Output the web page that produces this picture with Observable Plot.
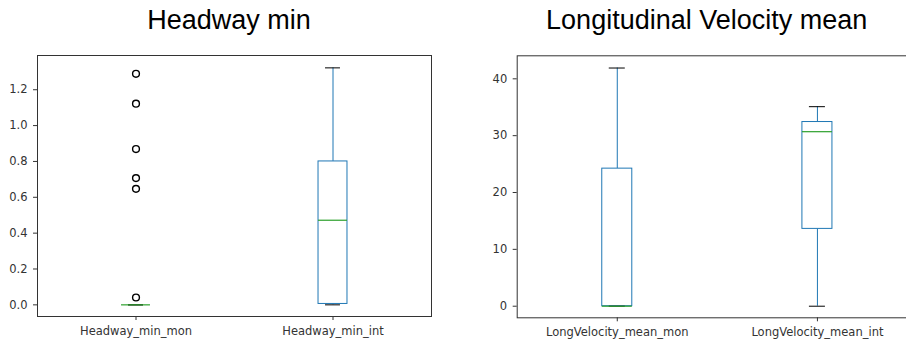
<!DOCTYPE html>
<html>
<head>
<meta charset="utf-8">
<script src="https://cdn.jsdelivr.net/npm/d3@7"></script>
<script src="https://cdn.jsdelivr.net/npm/@observablehq/plot@0.6"></script>
<style>
  html, body { margin: 0; padding: 0; background: #fff; }
  body { position: relative; width: 906px; height: 342px; overflow: hidden; }
  .title {
    position: absolute; top: 7px; height: 27px; line-height: 27px;
    font-family: "Liberation Sans", Arial, sans-serif; font-size: 27px;
    color: #000; text-align: center; white-space: nowrap;
  }
  .panel { position: absolute; top: 45px; }
</style>
</head>
<body>
<div class="title" style="left:29px;width:400px">Headway min</div>
<div class="title" style="left:506.7px;width:400px">Longitudinal Velocity mean</div>
<div class="panel" id="headway" style="left:0px;width:450px"></div>
<div class="panel" id="velocity" style="left:450px;width:467px"></div>
<script>
// Box summaries: whisker ends, quartiles, median and fliers per column
const headwayCats = ["Headway_min_mon", "Headway_min_int"];
const headwayLow = [0, 0];
const headwayQ1 = [0, 0.005];
const headwayMedian = [0, 0.472];
const headwayQ3 = [0, 0.80];
const headwayHigh = [0, 1.322];
const headwayFliers = [[0.041, 0.647, 0.707, 0.869, 1.122, 1.289], []];
const headwayTicks = [0, 0.2, 0.4, 0.6, 0.8, 1.0, 1.2];

const velocityCats = ["LongVelocity_mean_mon", "LongVelocity_mean_int"];
const velocityLow = [0, 0];
const velocityQ1 = [0, 13.6];
const velocityMedian = [0, 30.7];
const velocityQ3 = [24.2, 32.4];
const velocityHigh = [41.9, 35.1];
const velocityFliers = [[], []];
const velocityTicks = [0, 10, 20, 30, 40];

const BLUE = "#1f77b4";
const GREEN = "#2ca02c";

function boxPanel(o) {
  const rows = o.cats.map((cat, i) => ({
    cat, low: o.low[i], q1: o.q1[i], med: o.med[i], q3: o.q3[i], high: o.high[i]
  }));
  const fliers = o.cats.flatMap((cat, i) => o.fliers[i].map(v => ({cat, v})));
  return Plot.plot({
    width: o.width,
    height: 297,
    marginTop: o.marginTop,
    marginBottom: o.marginBottom,
    marginLeft: o.marginLeft,
    marginRight: o.marginRight,
    style: {fontFamily: "'DejaVu Sans', sans-serif", fontSize: "11.5px", color: "#333", background: "#fff", maxWidth: "none", overflow: "visible"},
    x: {type: "band", domain: o.cats, paddingInner: o.pad, paddingOuter: o.pad / 2, round: false},
    y: {domain: o.yDomain},
    marks: [
      Plot.ruleX(rows, {x: "cat", y1: "q3", y2: "high", stroke: BLUE, strokeWidth: 1}),
      Plot.ruleX(rows, {x: "cat", y1: "low", y2: "q1", stroke: BLUE, strokeWidth: 1}),
      Plot.barY(rows, {x: "cat", y1: "q1", y2: "q3", fill: "white", stroke: BLUE, strokeWidth: 1}),
      Plot.tickY(rows, {x: "cat", y: "low", stroke: "#000", strokeWidth: 1, insetLeft: o.capInset, insetRight: o.capInset}),
      Plot.tickY(rows, {x: "cat", y: "high", stroke: "#000", strokeWidth: 1, insetLeft: o.capInset, insetRight: o.capInset}),
      Plot.tickY(rows, {x: "cat", y: "med", stroke: GREEN, strokeWidth: 1.2}),
      Plot.dot(fliers, {x: "cat", y: "v", r: 3.4, fill: "none", stroke: "#000", strokeWidth: 1.4}),
      Plot.axisY({ticks: o.ticks, tickFormat: o.tickFormat, tickSize: 4, tickPadding: 6, label: null}),
      Plot.axisX({tickSize: 4, tickPadding: 6.5, label: null}),
      Plot.frame({stroke: "#333", strokeWidth: 1})
    ]
  });
}

document.getElementById("headway").append(boxPanel({
  cats: headwayCats, low: headwayLow, q1: headwayQ1, med: headwayMedian,
  q3: headwayQ3, high: headwayHigh, fliers: headwayFliers,
  ticks: headwayTicks, tickFormat: d3.format(".1f"),
  yDomain: [-0.065, 1.391],
  width: 450, marginTop: 10, marginBottom: 26, marginLeft: 37, marginRight: 19,
  pad: 0.853, capInset: 7
}));

document.getElementById("velocity").append(boxPanel({
  cats: velocityCats, low: velocityLow, q1: velocityQ1, med: velocityMedian,
  q3: velocityQ3, high: velocityHigh, fliers: velocityFliers,
  ticks: velocityTicks, tickFormat: d3.format("d"),
  yDomain: [-2.04, 44.05],
  width: 467, marginTop: 10.3, marginBottom: 24.7, marginLeft: 66.7, marginRight: 0,
  pad: 0.85, capInset: 7
}));
</script>
</body>
</html>
